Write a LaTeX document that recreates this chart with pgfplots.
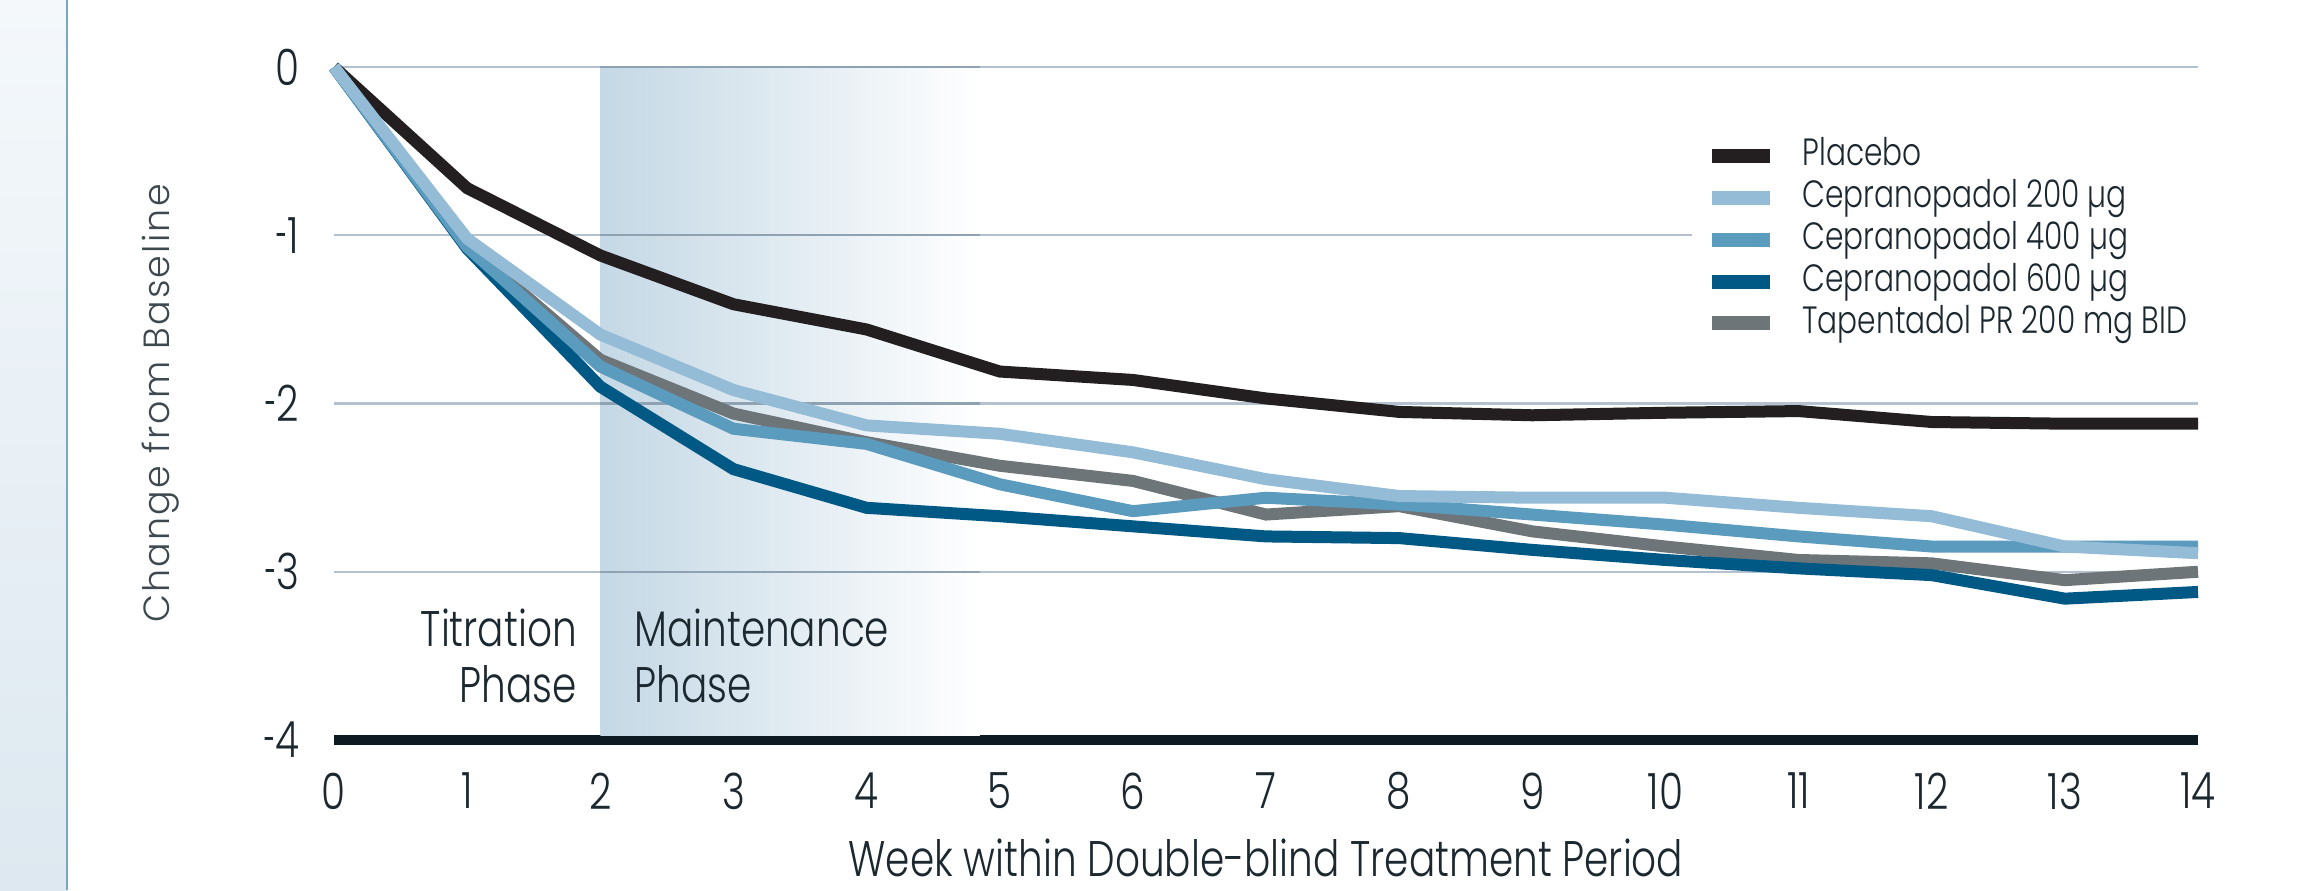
\documentclass[border=0pt]{standalone}
\usepackage{fontspec}
\setmainfont{Poppins Light}[FakeStretch=0.78]
\newfontfamily\ylfont{Poppins Light}[LetterSpace=6]
\usepackage{graphicx}
\usepackage{pgfplots}
\pgfplotsset{compat=1.18}
\definecolor{cPla}{HTML}{231F20}
\definecolor{cTwo}{HTML}{95BCD6}
\definecolor{cFour}{HTML}{5B9BBE}
\definecolor{cSix}{HTML}{005885}
\definecolor{cTap}{HTML}{6D7579}
\definecolor{txt}{HTML}{1B2830}
\definecolor{gridc}{HTML}{B3C2CE}
\definecolor{gridd}{HTML}{8FA2B2}
\definecolor{basec}{HTML}{0E1A22}
\definecolor{shadec}{HTML}{C4D8E5}
\definecolor{paneltop}{HTML}{F4F8FB}
\definecolor{panelbot}{HTML}{DDE8F0}
\definecolor{panelline}{HTML}{7BA7C7}
\newcommand{\hy}{\scalebox{0.55}[1]{-}}

\pgfplotstableread{
x  pla    c200   c400   c600   tap
0  0      0      0      0      0
1  -0.72  -1.02  -1.07  -1.08  -1.06
2  -1.12  -1.59  -1.78  -1.90  -1.74
3  -1.41  -1.92  -2.15  -2.39  -2.06
4  -1.56  -2.13  -2.24  -2.62  -2.23
5  -1.81  -2.18  -2.48  -2.67  -2.37
6  -1.86  -2.29  -2.64  -2.73  -2.46
7  -1.97  -2.45  -2.56  -2.79  -2.66
8  -2.05  -2.55  -2.60  -2.80  -2.61
9  -2.07  -2.56  -2.66  -2.87  -2.76
10 -2.055 -2.56  -2.72  -2.93  -2.85
11 -2.045 -2.62  -2.79  -2.98  -2.93
12 -2.11  -2.67  -2.85  -3.02  -2.95
13 -2.12  -2.85  -2.85  -3.16  -3.05
14 -2.12  -2.89  -2.85  -3.12  -3.00
}\datatable

\begin{document}
\begin{tikzpicture}
\shade[top color=paneltop, bottom color=panelbot] (0pt,0pt) rectangle (16.75pt,222.5pt);
\draw[color=panelline, line width=0.5pt] (16.75pt,0pt) -- (16.75pt,222.5pt);
\begin{axis}[
  at={(83.5pt,37.5pt)}, anchor=south west,
  scale only axis, width=466pt, height=168.25pt,
  xmin=0, xmax=14, ymin=-4, ymax=0,
  clip=false,
  axis lines*=left,
  y axis line style={draw=none},
  x axis line style={line width=2.5pt, color=basec, -},
  major tick length=0pt,
  xtick={0,1,2,3,4,5,6,7,8,9,10,11,12,13,14},
  xticklabels={0,1,2,3,4,5,6,7,8,9,10,11,12,13,14},
  ytick={-4,-3,-2,-1,0},
  yticklabels={\hy4,\hy3,\hy2,\hy1,0},
  xticklabel style={anchor=center, inner sep=0pt, yshift=-12.75pt, font=\fontsize{12.5}{14}\selectfont, text=txt},
  yticklabel style={anchor=east, inner sep=0pt, xshift=-8.5pt, font=\fontsize{12.5}{14}\selectfont, text=txt},
  ymajorgrids,
  grid style={color=gridc, line width=0.6pt},
  xlabel={Week within Double-blind Treatment Period},
  xlabel style={at={(axis description cs:0.5,0)}, anchor=center, yshift=-29.5pt, font=\fontsize{12.5}{14}\selectfont, text=txt},
  ylabel={\ylfont Change from Baseline},
  ylabel style={at={(axis description cs:-0.0928,0.5)}, anchor=center, rotate=0, font=\fontsize{9.1}{12}\selectfont, text=txt!85},
  legend style={at={(axis cs:10.19,-0.31)}, anchor=north west, fill=white, draw=none,
    inner xsep=5pt, inner ysep=4pt, font=\fontsize{9.5}{10}\selectfont, text=txt,
    row sep=0.35pt, nodes={inner xsep=1.75pt, inner ysep=1pt, text height=6.5pt, text depth=1.6pt}},
  legend cell align=left,
  legend image code/.code={\fill[#1, draw=none] (0pt,-1.75pt) rectangle (14.5pt,1.75pt); \path[draw=none, fill=none] (0pt,0pt) -- (21pt,0pt);},
  every axis plot/.append style={line width=3pt, no markers},
]
\fill[left color=shadec, right color=white] (axis cs:2,0) rectangle ([yshift=1.25pt]axis cs:4.85,-4);
\pgfplotsinvokeforeach{-3,-2,-1,0}{
  \draw[color=gridd, line width=0.6pt] (axis cs:2,#1) -- (axis cs:4.85,#1);
}
\addplot[color=cPla] table[x=x, y=pla] {\datatable};
\addlegendentry{Placebo}
\addplot[color=cTap, forget plot] table[x=x, y=tap] {\datatable};
\addplot[color=cSix, forget plot] table[x=x, y=c600] {\datatable};
\addplot[color=cFour, forget plot] table[x=x, y=c400] {\datatable};
\addplot[color=cTwo] table[x=x, y=c200] {\datatable};
\addlegendentry{Cepranopadol 200 µg}
\addlegendimage{color=cFour}
\addlegendentry{Cepranopadol 400 µg}
\addlegendimage{color=cSix}
\addlegendentry{Cepranopadol 600 µg}
\addlegendimage{color=cTap}
\addlegendentry{Tapentadol PR 200 mg BID}
\node[anchor=east, align=right, inner sep=0pt, font=\fontsize{12.5}{13.9}\selectfont, text=txt] at (axis cs:1.83,-3.5) {Titration\\Phase};
\node[anchor=west, align=left, inner sep=0pt, font=\fontsize{12.5}{13.9}\selectfont, text=txt] at (axis cs:2.25,-3.5) {Maintenance\\Phase};
\end{axis}
\pgfresetboundingbox
\path (0pt,0pt) rectangle (574.5pt,222.5pt);
\end{tikzpicture}
\end{document}
